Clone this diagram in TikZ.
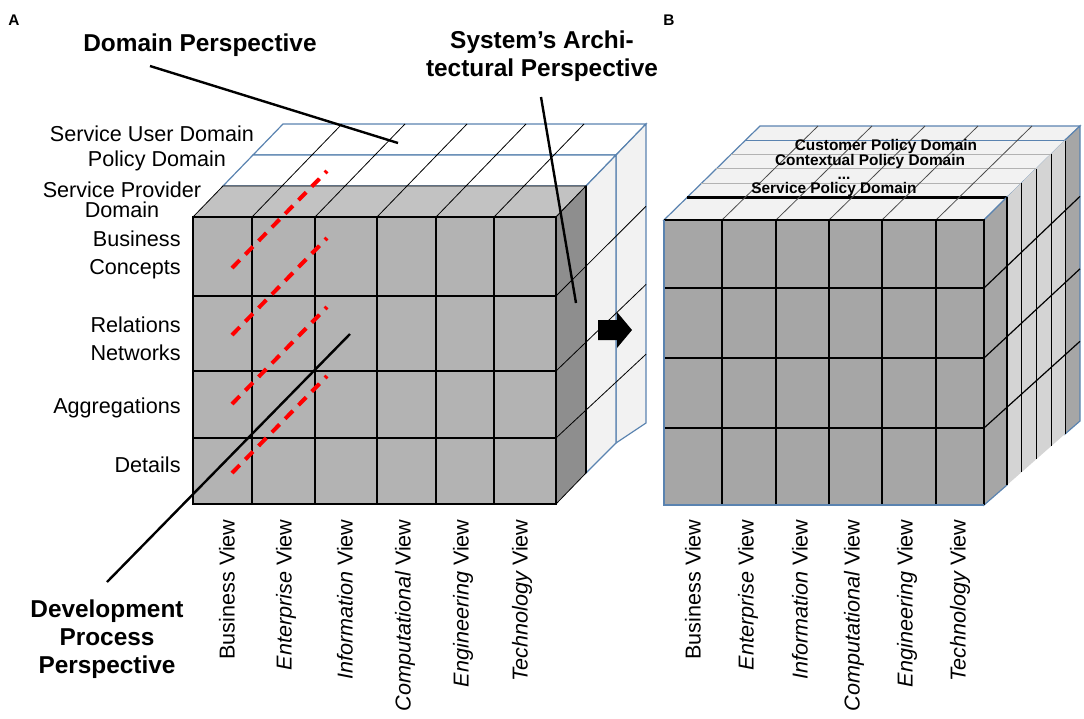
\documentclass[tikz,border=0pt]{standalone}
\usepackage{fontspec}
\setmainfont{Liberation Sans}
\usepackage{tikz}
\usetikzlibrary{positioning}
\usepackage{xcolor}

\definecolor{frontgray}{HTML}{B3B3B3}
\definecolor{topgray}{HTML}{C2C2C2}
\definecolor{sidegray}{HTML}{8E8E8E}
\definecolor{slabblue}{HTML}{5A83B0}
\definecolor{slabwhite}{HTML}{F2F2F2}
\definecolor{bfront}{HTML}{A6A6A6}
\definecolor{bstrata}{HTML}{D4D4D4}

\tikzset{
  rowlabel/.style={font=\fontsize{10.8}{14}\selectfont, inner sep=0pt},
  viewlabel/.style={font=\fontsize{10.8}{13}\selectfont, rotate=90, anchor=east, inner sep=0pt},
  persp/.style={font=\fontsize{12.2}{14}\selectfont\bfseries, align=center, inner sep=0pt},
  panel/.style={font=\fontsize{7.7}{9}\selectfont\bfseries, inner sep=0pt},
  policy/.style={font=\fontsize{7.7}{9}\selectfont\bfseries, inner sep=0pt},
  pointer/.style={draw=black, line width=1.2pt},
  gridline/.style={draw=black, line width=0.9pt},
  thinline/.style={draw=black, line width=0.4pt},
  slab/.style={draw=slabblue, line width=0.6pt},
  reddash/.style={draw=red, line width=2pt, dash pattern=on 5.5pt off 4pt},
}

\begin{document}
\begin{tikzpicture}[x=0.5pt, y=-0.5pt]

\useasboundingbox (0,0) rectangle (1084,719);

\node[panel] (panA) at (14,20) {A};
\node[panel] (panB) at (669,20) {B};

% cube A
\begin{scope}
{
% back slab
\filldraw[slab, fill=white] (253,155)--(616,155)--(646,124)--(283,124)--cycle;
\filldraw[slab, fill=slabwhite] (616,155)--(646,124)--(646,423)--(616,443)--cycle;

% middle slab
\filldraw[slab, fill=white] (223,186)--(586,186)--(616,155)--(253,155)--cycle;
\filldraw[slab, fill=slabwhite] (586,186)--(616,155)--(616,443)--(586,473)--cycle;

% front block
\filldraw[fill=topgray, thinline] (193,217)--(556,217)--(586,186)--(223,186)--cycle;
\filldraw[fill=sidegray, thinline] (556,217)--(586,186)--(586,473)--(556,504)--cycle;
\filldraw[fill=frontgray, gridline] (193,217) rectangle (556,504);

% grid lines
\foreach \cx in {252,315,377,436,494}
  \draw[gridline] (\cx,217) -- (\cx,504);
\foreach \ry in {296,371,438}
  \draw[gridline] (193,\ry) -- (556,\ry);
\foreach \cx in {252,315,377,436,494}
  \draw[thinline] (\cx,217) -- (\cx+90,124);
\foreach \ry in {296,371,438}
  \draw[thinline] (556,\ry) -- (646,\ry-93+12*\ry/287-12*217/287);
\draw[black, line width=1.3pt] (586,186) -- (586,473);

% red lines
{
\draw[reddash] (232,268) -- (327,171);
\draw[reddash] (232,335) -- (327,238);
\draw[reddash] (232,404) -- (327,307);
\draw[reddash] (232,473) -- (327,376);
}

\node[rowlabel] (userdom) at (152,134) {Service User Domain};
\node[rowlabel] (policydom) at (157,161) {Policy Domain};
\node[rowlabel, align=center, font=\fontsize{10.8}{10}\selectfont] (providerdom) at (122,200) {Service Provider\\Domain};
\node[rowlabel, anchor=east, align=right] (busconc) at (181,255) {Business\\Concepts};
\node[rowlabel, anchor=east, align=right] (relnet) at (181,339) {Relations\\Networks};
\node[rowlabel, anchor=east] (aggr) at (181,408) {Aggregations};
\node[rowlabel, anchor=east] (details) at (181,465) {Details};

\node[viewlabel] (busA) at (227,519) {Business View};
\node[viewlabel] (entA) at (286,519) {\itshape Enterprise\upshape\ View};
\node[viewlabel] (infA) at (345,519) {\itshape Information\upshape\ View};
\node[viewlabel] (compA) at (405,519) {\itshape Computational\upshape\ View};
\node[viewlabel] (engA) at (463,519) {\itshape Engineering\upshape\ View};
\node[viewlabel] (techA) at (522,519) {\itshape Technology\upshape\ View};

\node[persp] (domp) at (200,45) {Domain Perspective};
\node[persp] (sysp) at (542,56) {System’s Archi-\\tectural Perspective};
\node[persp] (devp) at (107,639) {Development\\Process\\Perspective};

\coordinate (domfoot) at (150,66);
\coordinate (domtip) at (398,143);
\coordinate (sysfoot) at (541,97);
\coordinate (systip) at (576,303);
\coordinate (devfoot) at (107,582);
\coordinate (devtip) at (350,334);

\draw[pointer] (domfoot) -- (domtip);
\draw[pointer] (sysfoot) -- (systip);
\draw[pointer] (devfoot) -- (devtip);
}
\end{scope}

% arrow between the cubes
\fill[black] (598,320)--(617,320)--(617,312)--(632,330)--(617,348)--(617,340)--(598,340)--cycle;

% cube B
\begin{scope}
{
% top face
\filldraw[fill=slabwhite, slab] (664,220)--(984,220)--(1080,126)--(760,126)--cycle;
\foreach \f in {0.39,0.545,0.70}
  \draw[gray!60, line width=0.5pt] (664+96*\f,220-94*\f) -- (984+96*\f,220-94*\f);
\draw[slab] (664+96*0.845,220-94*0.845) -- (984+96*0.845,220-94*0.845);
\draw[black, line width=1.1pt] (664+96*0.24,220-94*0.24) -- (984+96*0.24,220-94*0.24);
\foreach \cx in {722,776,829,882,936}
  \draw[gray!60!black, line width=0.4pt] (\cx,220) -- (\cx+96,126);

% right face
\filldraw[fill=bfront, slab] (1065,140)--(1080,126)--(1080,421)--(1065,434)--cycle;
\fill[bstrata] (1007,197)--(1065,140)--(1065,434)--(1007,485)--cycle;
\filldraw[fill=bfront, slab] (984,220)--(1007,197)--(1007,485)--(984,505)--cycle;
\foreach \f in {0.39,0.545,0.70,0.845}
  \draw[black, line width=0.6pt] (984+96*\f,220-94*\f) -- (984+96*\f,505-84*\f);
\draw[black, line width=1.2pt] (1007,197) -- (1007,485);
\foreach \ry in {288,358,428}
  \draw[black, line width=0.6pt] (984,\ry) -- (1080,\ry-94+10*\ry/285-10*220/285);

% front face
\fill[bfront] (664,220) rectangle (984,505);
\foreach \cx in {722,776,829,882,936}
  \draw[gridline] (\cx,220) -- (\cx,505);
\foreach \ry in {288,358,428}
  \draw[gridline] (664,\ry) -- (984,\ry);
\draw[gridline] (664,220) -- (984,220) -- (984,505);
\draw[slab] (984,505) -- (664,505) -- (664,220);

\node[policy] (custdom) at (886,147) {Customer Policy Domain};
\node[policy] (ctxdom) at (870,162) {Contextual Policy Domain};
\node[policy] (moredom) at (844,178) {...};
\node[policy] (servdom) at (834,190) {Service Policy Domain};

\node[viewlabel] (busB) at (693,519) {Business View};
\node[viewlabel] (entB) at (748,519) {\itshape Enterprise\upshape\ View};
\node[viewlabel] (infB) at (800,519) {\itshape Information\upshape\ View};
\node[viewlabel] (compB) at (854,519) {\itshape Computational\upshape\ View};
\node[viewlabel] (engB) at (907,519) {\itshape Engineering\upshape\ View};
\node[viewlabel] (techB) at (960,519) {\itshape Technology\upshape\ View};
}
\end{scope}

\end{tikzpicture}
\end{document}
